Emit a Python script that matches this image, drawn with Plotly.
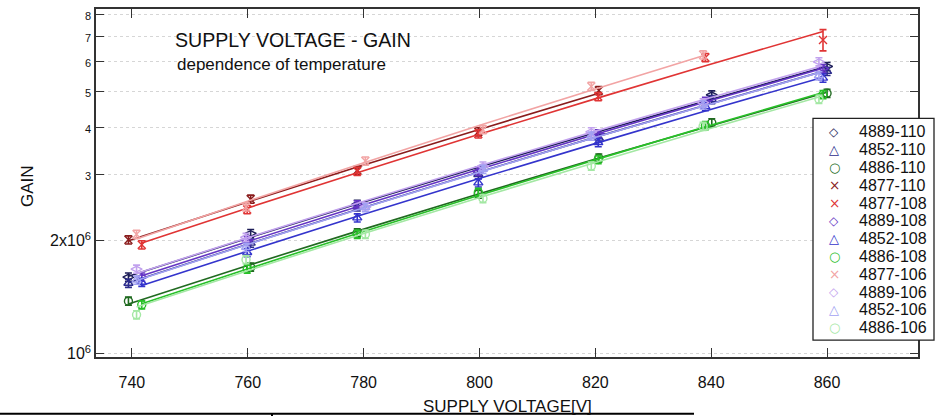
import numpy as np
import plotly.graph_objects as go

# ---------------- data (gain in units of 1e6) ----------------
volt_110 = [739.4, 760.5, 778.9, 799.8, 820.6, 840.1, 860.0]
volt_108 = [741.7, 759.9, 778.9, 799.8, 820.5, 839.0, 859.3]
volt_106 = [740.8, 759.7, 780.3, 800.6, 819.3, 838.6, 858.6]

gain_4889_110 = [1.60, 2.09, 2.50, 3.06, 3.85, 4.89, 5.82]
gain_4852_110 = [1.54, 1.97, 2.46, 3.00, 3.75, 4.75, 5.65]
gain_4886_110 = [1.38, 1.70, 2.10, 2.66, 3.32, 4.12, 4.94]
gain_4877_110 = [2.01, 2.58, 3.08, 3.90, 5.02, None, None]
gain_4877_108 = [1.95, 2.42, 3.06, 3.85, 4.84, 6.15, 6.85]
gain_4889_108 = [1.60, 2.00, 2.49, 3.06, 3.85, 4.70, 5.75]
gain_4852_108 = [1.55, 1.86, 2.30, 2.85, 3.65, 4.55, 5.42]
gain_4886_108 = [1.35, 1.68, 2.08, 2.69, 3.29, 4.05, 4.90]
gain_4877_106 = [2.08, 2.46, 3.26, 3.95, 5.15, 6.25, None]
gain_4889_106 = [1.68, 2.04, 2.46, 3.16, 3.90, 4.66, 5.99]
gain_4852_106 = [1.57, 1.92, 2.45, 3.10, 3.80, 4.60, 5.50]
gain_4886_106 = [1.27, 1.78, 2.08, 2.59, 3.16, 4.03, 4.76]

# relative error (%) of each point
err_default = [2.5, 2.5, 2.5, 2.5, 2.5, 2.5, 2.5]
err_4877_108 = [2.5, 2.5, 2.5, 2.5, 2.5, 2.5, 6.5]

series_names = ["4889-110", "4852-110", "4886-110", "4877-110", "4877-108", "4889-108",
                "4852-108", "4886-108", "4877-106", "4889-106", "4852-106", "4886-106"]
series_volts = [volt_110, volt_110, volt_110, volt_110, volt_108, volt_108,
                volt_108, volt_108, volt_106, volt_106, volt_106, volt_106]
series_gains = [gain_4889_110, gain_4852_110, gain_4886_110, gain_4877_110, gain_4877_108,
                gain_4889_108, gain_4852_108, gain_4886_108, gain_4877_106, gain_4889_106,
                gain_4852_106, gain_4886_106]
series_errs = [err_default, err_default, err_default, err_default, err_4877_108, err_default,
               err_default, err_default, err_default, err_default, err_default, err_default]

y_tickvals = [1e6, 2e6, 3e6, 4e6, 5e6, 6e6, 7e6, 8e6]
y_ticktext = ["10<sup>6</sup>", "2x10<sup>6</sup>", "3", "4", "5", "6", "7", "8"]
x_tickvals = [740, 760, 780, 800, 820, 840, 860]

# ---------------- styles ----------------
symbols = ["diamond-wide-open", "triangle-up-open", "circle-open", "x-thin-open",
           "x-thin-open", "diamond-wide-open", "triangle-up-open", "circle-open",
           "x-thin-open", "diamond-wide-open", "triangle-up-open", "circle-open"]
glyphs = {"diamond-wide-open": "\u25C7", "triangle-up-open": "\u25B3",
          "circle-open": "\u25CB", "x-thin-open": "\u00D7"}
glyph_size = {"diamond-wide-open": 12, "triangle-up-open": 13,
              "circle-open": 13, "x-thin-open": 13.5}
colors = ["#1e1e58", "#2c2c8c", "#206a20", "#8a1c1c",
          "#e03434", "#6434c4", "#3434cc", "#28c028",
          "#f2a4a4", "#c2a2ee", "#a2a2f2", "#a4e8a4"]

small = '<span style="font-size:11px">%s</span>'
y_ticktext_styled = [t if "10" in t else small % t for t in y_ticktext]

# plot-area geometry in pixels (used to place texts in paper coordinates)
L, R, T, B = 96, 918, 7, 357
PW, PH = R - L, B - T


def px(xp):
    return (xp - L) / PW


def py(yp):
    return (B - yp) / PH


fig = go.Figure()

for name, xs, gs, es, sym, col in zip(series_names, series_volts, series_gains,
                                        series_errs, symbols, colors):
    xv = np.array([x for x, g in zip(xs, gs) if g is not None])
    gv = np.array([g for g in gs if g is not None]) * 1e6
    ev = np.array([e for e, g in zip(es, gs) if g is not None])
    # power-law fit line (as drawn in the original figure)
    coef = np.polyfit(np.log(xv), np.log(gv), 1)
    fit = np.exp(np.polyval(coef, np.log(xv)))
    fig.add_trace(go.Scatter(x=xv, y=fit, mode="lines", showlegend=False,
                             line=dict(color=col, width=1.6), hoverinfo="skip"))
    fig.add_trace(go.Scatter(
        x=xv, y=gv, mode="markers", name=name, showlegend=False,
        marker=dict(symbol=sym, size=8, color=col, line=dict(color=col, width=1.4)),
        error_y=dict(type="data", array=gv * ev / 100.0, color=col, thickness=1.6, width=3.5),
    ))

axis_common = dict(showline=True, linecolor="#333333", linewidth=1.5, mirror="ticks",
                   ticks="inside", tickcolor="#333333", tickwidth=1.3, zeroline=False,
                   tickfont=dict(family="Liberation Sans, Arial, sans-serif", size=16, color="#111111"))

fig.update_xaxes(range=[733.8, 875.7], tickvals=x_tickvals, ticklen=9, showgrid=False,
                 ticklabelstandoff=10, **axis_common)
fig.update_yaxes(type="log", range=[np.log10(0.98e6), np.log10(8.28e6)],
                 tickvals=y_tickvals, ticktext=y_ticktext_styled, ticklen=8,
                 showgrid=True, gridcolor="#d6d6d6", griddash="dot", gridwidth=1,
                 **axis_common)

txt_font = "Liberation Sans, Arial, sans-serif"
annotations = [
    dict(text="SUPPLY VOLTAGE - GAIN", xref="paper", yref="paper",
         x=px(173), y=py(38), xanchor="left", yanchor="middle",
         showarrow=False, font=dict(family=txt_font, size=19.6, color="#111111")),
    dict(text="dependence of temperature", xref="paper", yref="paper",
         x=px(175), y=py(63), xanchor="left", yanchor="middle",
         showarrow=False, font=dict(family=txt_font, size=17, color="#111111")),
    dict(text="GAIN", xref="paper", yref="paper", textangle=-90,
         x=px(28), y=py(185), xanchor="center", yanchor="middle",
         showarrow=False, font=dict(family=txt_font, size=17, color="#111111")),
    dict(text="SUPPLY VOLTAGE[V]", xref="paper", yref="paper",
         x=px(507), y=py(407), xanchor="center", yanchor="middle",
         showarrow=False, font=dict(family=txt_font, size=17, color="#111111")),
]

# legend rows
for i, (name, sym, col) in enumerate(zip(series_names, symbols, colors)):
    yc = 130.7 + 17.9 * i
    annotations.append(dict(text=glyphs[sym], xref="paper", yref="paper",
                            x=px(834), y=py(yc), xanchor="center", yanchor="middle",
                            showarrow=False,
                            font=dict(family="DejaVu Sans", size=glyph_size[sym], color=col)))
    annotations.append(dict(text=name, xref="paper", yref="paper",
                            x=px(857), y=py(yc), xanchor="left", yanchor="middle",
                            showarrow=False,
                            font=dict(family=txt_font, size=16, color="#111111")))

fig.update_layout(
    width=935, height=416,
    margin=dict(l=L, r=935 - R, t=T, b=416 - B),
    paper_bgcolor="white", plot_bgcolor="white",
    showlegend=False,
    annotations=annotations,
    shapes=[
        # legend box
        dict(type="rect", xref="paper", yref="paper", x0=px(813), x1=px(934),
             y0=py(340), y1=py(117), layer="above", fillcolor="white",
             line=dict(color="#222222", width=1.3)),
        dict(type="line", xref="paper", yref="paper", x0=px(0), x1=px(694),
             y0=py(414), y1=py(414), line=dict(color="black", width=2)),
        dict(type="line", xref="paper", yref="paper", x0=px(272), x1=px(272),
             y0=py(414), y1=py(417), line=dict(color="black", width=2)),
    ],
)

fig.write_html("out.html")
